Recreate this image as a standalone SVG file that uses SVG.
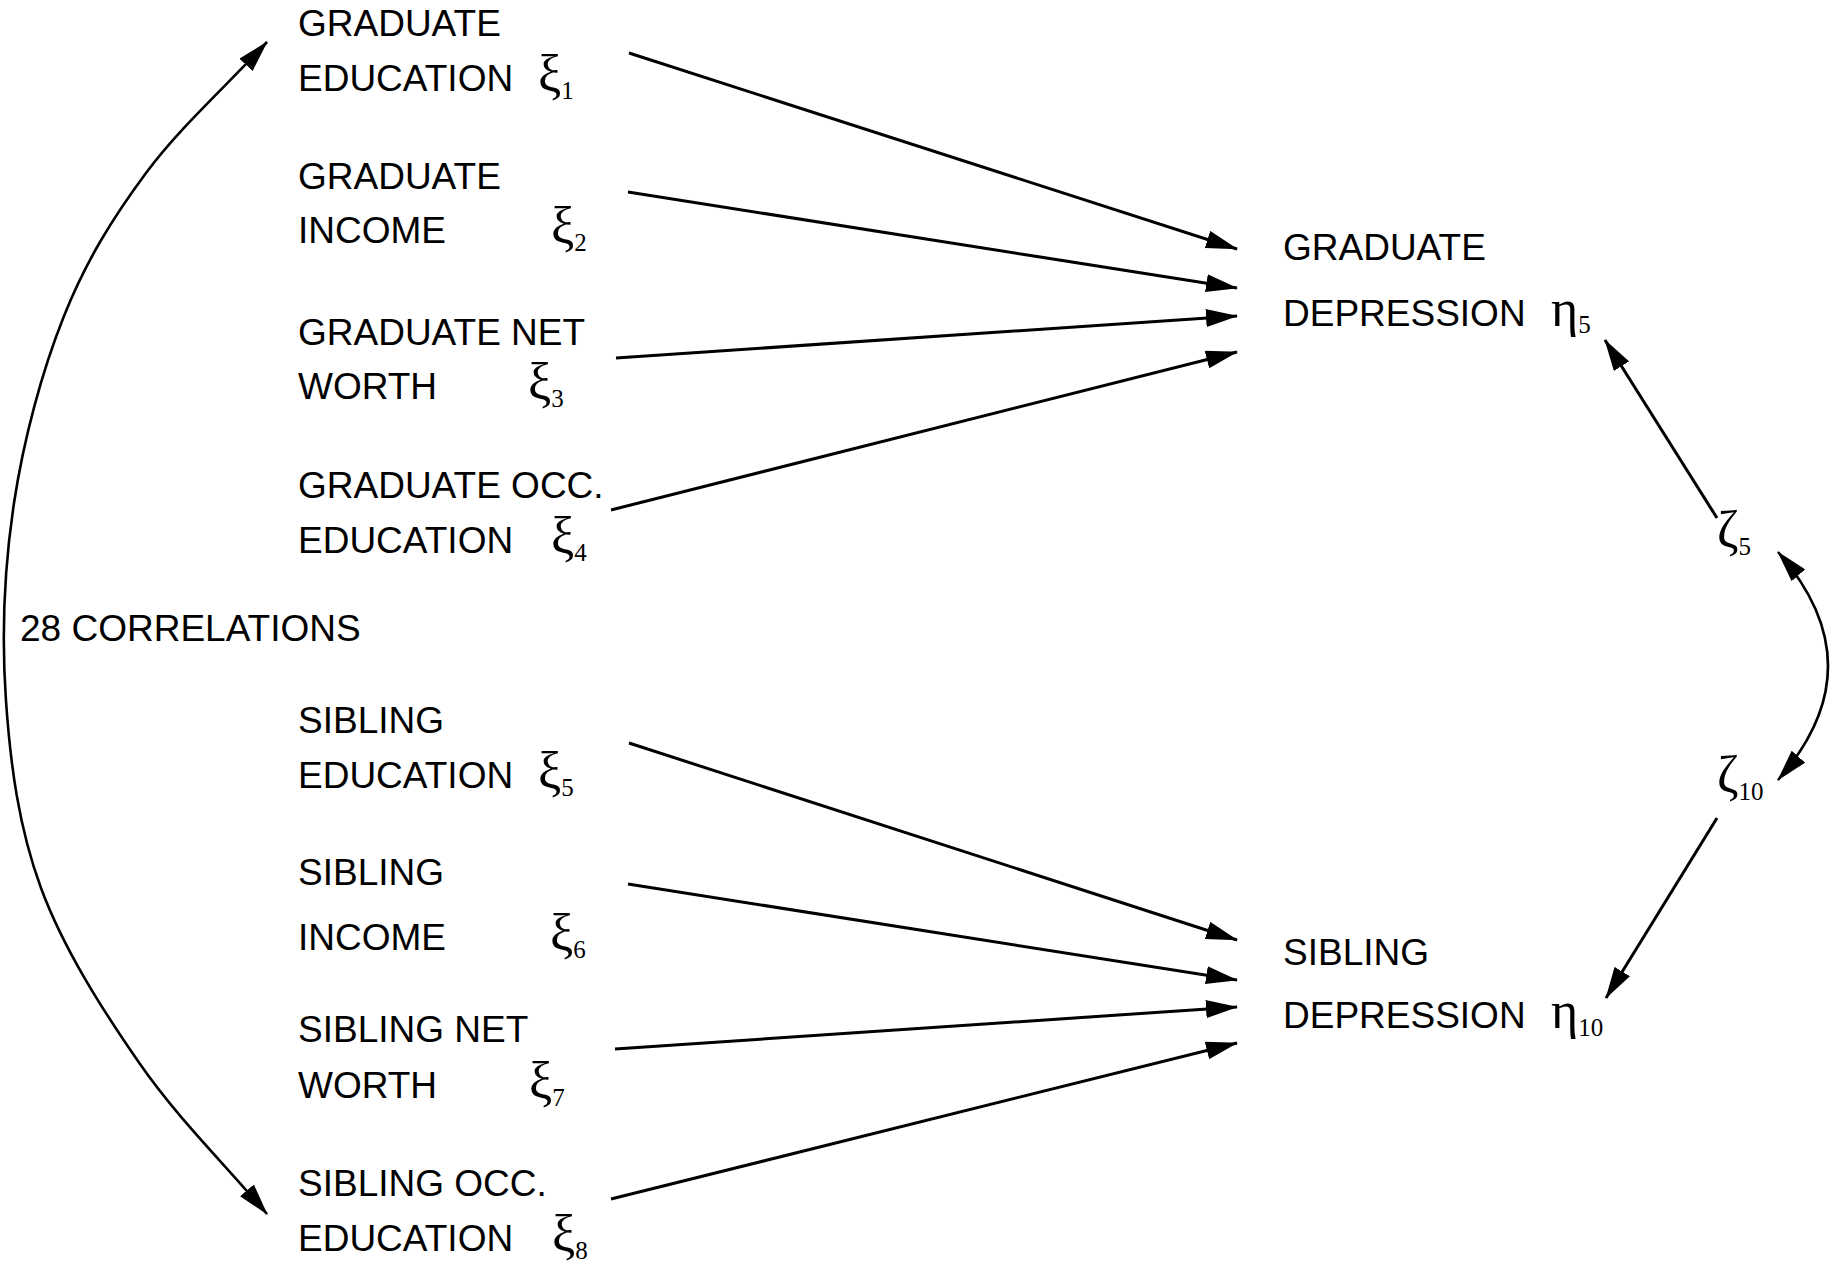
<svg xmlns="http://www.w3.org/2000/svg" width="1833" height="1270" viewBox="0 0 1833 1270">
<style>
.lbl{font-family:"Liberation Sans",Arial,sans-serif;font-size:37px;fill:#000}
.gk{font-family:"Liberation Serif","Times New Roman",serif;font-size:52px;fill:#000}
.sb{font-family:"Liberation Serif","Times New Roman",serif;font-size:25px}
.ln{stroke:#000;stroke-width:3;fill:none}
.arc{stroke:#000;stroke-width:2.6;fill:none;stroke-linejoin:round}
</style>
<defs>
<marker id="ah" markerUnits="userSpaceOnUse" viewBox="0 0 32 18" markerWidth="32" markerHeight="18" refX="31" refY="9" orient="auto-start-reverse">
<path d="M0,0 L32,9 L0,18 Z" fill="#000"/>
</marker>
</defs>
<rect width="1833" height="1270" fill="#fff"/>
<g id="connectors">
<line class="ln" x1="629" y1="53" x2="1237" y2="249" marker-end="url(#ah)"/>
<line class="ln" x1="628" y1="192" x2="1237" y2="288" marker-end="url(#ah)"/>
<line class="ln" x1="616" y1="358" x2="1237" y2="316" marker-end="url(#ah)"/>
<line class="ln" x1="611" y1="510" x2="1237" y2="352" marker-end="url(#ah)"/>
<line class="ln" x1="629" y1="743" x2="1237" y2="940" marker-end="url(#ah)"/>
<line class="ln" x1="628" y1="884" x2="1237" y2="980" marker-end="url(#ah)"/>
<line class="ln" x1="615" y1="1049" x2="1237" y2="1007" marker-end="url(#ah)"/>
<line class="ln" x1="611" y1="1199" x2="1237" y2="1043" marker-end="url(#ah)"/>
<line class="ln" x1="1717" y1="518" x2="1605" y2="340" marker-end="url(#ah)"/>
<line class="ln" x1="1717" y1="818" x2="1606" y2="998" marker-end="url(#ah)"/>
<path class="arc" d="M1778,552 Q1878,666 1778,780" marker-start="url(#ah)" marker-end="url(#ah)"/>
<path class="arc" d="M267,42 C226.7,85.7 179.8,127.3 146,173 C112.2,218.7 86,261 64,316 C42,371 23.7,438.8 14,503 C4.3,567.2 1.5,636.8 6,701 C10.5,765.2 18.7,827.5 41,888 C63.3,948.5 102.3,1009.7 140,1064 C177.7,1118.3 224.7,1164 267,1214" marker-start="url(#ah)" marker-end="url(#ah)"/>
</g>
<g id="corr"><text class="lbl" x="20" y="641">28 CORRELATIONS</text></g>
<g id="xi1"><text class="lbl" x="298" y="36">GRADUATE</text><text class="lbl" x="298" y="91">EDUCATION</text><text class="gk" x="538" y="91">ξ<tspan class="sb" dy="8">1</tspan></text></g>
<g id="xi2"><text class="lbl" x="298" y="189">GRADUATE</text><text class="lbl" x="298" y="243">INCOME</text><text class="gk" x="551" y="243">ξ<tspan class="sb" dy="8">2</tspan></text></g>
<g id="xi3"><text class="lbl" x="298" y="345">GRADUATE NET</text><text class="lbl" x="298" y="399">WORTH</text><text class="gk" x="528" y="399">ξ<tspan class="sb" dy="8">3</tspan></text></g>
<g id="xi4"><text class="lbl" x="298" y="498">GRADUATE OCC.</text><text class="lbl" x="298" y="553">EDUCATION</text><text class="gk" x="551" y="553">ξ<tspan class="sb" dy="8">4</tspan></text></g>
<g id="xi5"><text class="lbl" x="298" y="733">SIBLING</text><text class="lbl" x="298" y="788">EDUCATION</text><text class="gk" x="538" y="788">ξ<tspan class="sb" dy="8">5</tspan></text></g>
<g id="xi6"><text class="lbl" x="298" y="885">SIBLING</text><text class="lbl" x="298" y="950">INCOME</text><text class="gk" x="550" y="950">ξ<tspan class="sb" dy="8">6</tspan></text></g>
<g id="xi7"><text class="lbl" x="298" y="1042">SIBLING NET</text><text class="lbl" x="298" y="1098">WORTH</text><text class="gk" x="529" y="1098">ξ<tspan class="sb" dy="8">7</tspan></text></g>
<g id="xi8"><text class="lbl" x="298" y="1196">SIBLING OCC.</text><text class="lbl" x="298" y="1251">EDUCATION</text><text class="gk" x="552" y="1251">ξ<tspan class="sb" dy="8">8</tspan></text></g>
<g id="eta5"><text class="lbl" x="1283" y="260">GRADUATE</text><text class="lbl" x="1283" y="326">DEPRESSION</text><text class="gk" x="1551" y="326">η<tspan class="sb" dy="7">5</tspan></text></g>
<g id="eta10"><text class="lbl" x="1283" y="965">SIBLING</text><text class="lbl" x="1283" y="1028">DEPRESSION</text><text class="gk" x="1551" y="1028">η<tspan class="sb" dy="8">10</tspan></text></g>
<g id="zeta5"><text class="gk" x="1717" y="547">ζ<tspan class="sb" dy="8">5</tspan></text></g>
<g id="zeta10"><text class="gk" x="1717" y="792">ζ<tspan class="sb" dy="8">10</tspan></text></g>
</svg>
